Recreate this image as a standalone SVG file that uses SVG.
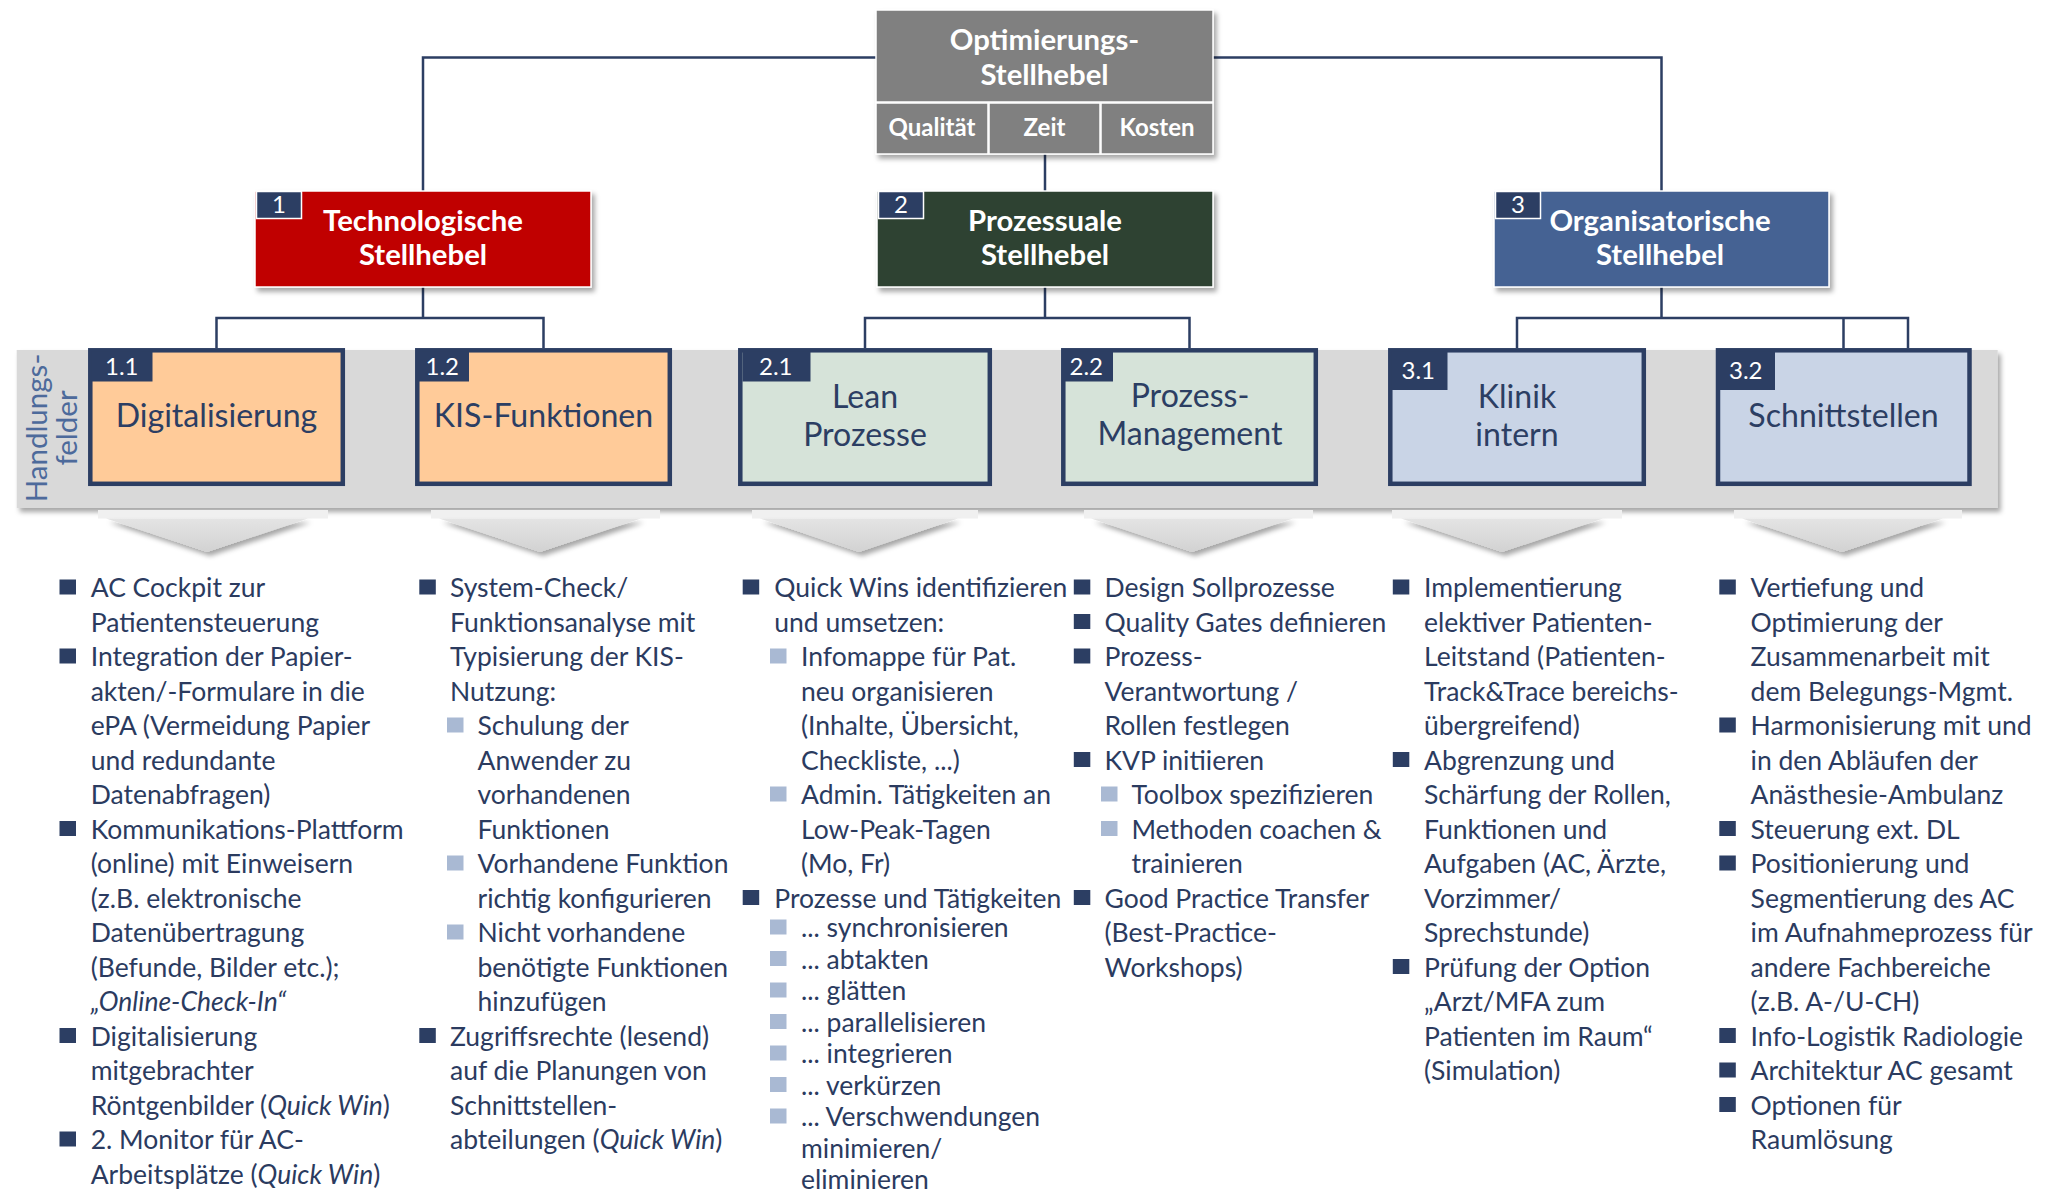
<svg xmlns="http://www.w3.org/2000/svg" width="2051" height="1191" viewBox="0 0 2051 1191">
<defs>
<style>
text{font-family:Lato,'Liberation Sans',sans-serif}
.li{font-size:26.5px;fill:#2B3B5F}
.it{font-style:italic}
.hd{font-weight:bold;fill:#fff;font-size:29.3px;text-anchor:middle}
.cell{font-weight:bold;fill:#fff;font-size:24px;text-anchor:middle}
.fld{font-size:32.1px;fill:#2C3E63;text-anchor:middle}
.num{font-size:24px;fill:#fff}
.b{fill:#2C3E63}
.sb{fill:#A9B9D3}
.conn{stroke:#2C3E63;stroke-width:2.5;fill:none}
.lbl{fill:#2C3E63}
.tlbl{fill:#2C3E63;stroke:#fff;stroke-width:1.5}
.top{stroke:#fff;stroke-width:1.5}
.fbox{stroke:#2C3E63;stroke-width:4.5}
.chl{fill:#F0F0F0}
.chv{fill:url(#cg)}
.hf{font-size:29.5px;fill:#4D6A9B;text-anchor:middle}
</style>
<filter id="sh" x="-10%" y="-10%" width="125%" height="140%">
<feDropShadow dx="3" dy="4" stdDeviation="2.5" flood-color="#000" flood-opacity="0.35"/>
</filter>
<linearGradient id="cg" x1="0" y1="0" x2="0" y2="1">
<stop offset="0" stop-color="#E4E4E4"/>
<stop offset="1" stop-color="#D2D2D2"/>
</linearGradient>
</defs>
<rect width="2051" height="1191" fill="#fff"/>

<g id="band">
<rect x="16.7" y="350" width="1981" height="158" fill="#D9D9D9" filter="url(#sh)"/>
<text class="hf" transform="translate(46.7,428) rotate(-90)">Handlungs-</text>
<text class="hf" transform="translate(77,428) rotate(-90)">felder</text>
</g>

<g id="connectors">
<path class="conn" d="M876,57.5H423V191"/>
<path class="conn" d="M1213,57.5H1661.5V191"/>
<path class="conn" d="M1045,154V191"/>
<path class="conn" d="M423,287V318M216.5,348V318H543.5V348"/>
<path class="conn" d="M1045,287V318M865,348V318H1189.5V348"/>
<path class="conn" d="M1661.5,287V318M1517,348V318H1908V348M1843.5,318V348"/>
</g>

<g id="optimierung">
<g filter="url(#sh)">
<rect class="top" x="876" y="10" width="337" height="92" fill="#808080"/>
<rect class="top" x="876" y="103" width="112" height="51" fill="#808080"/>
<rect class="top" x="989" y="103" width="111" height="51" fill="#808080"/>
<rect class="top" x="1101" y="103" width="112" height="51" fill="#808080"/>
</g>
<text class="hd" x="1044.5" y="50">Optimierungs-</text>
<text class="hd" x="1044.5" y="85">Stellhebel</text>
<text class="cell" x="932" y="136">Qualität</text>
<text class="cell" x="1044.5" y="136">Zeit</text>
<text class="cell" x="1157" y="136">Kosten</text>
</g>

<g id="n1">
<rect class="top" x="255" y="191" width="336" height="96" fill="#C00000" filter="url(#sh)"/>
<rect class="tlbl" x="256.5" y="191.5" width="45" height="27"/>
<text class="num" x="279" y="213" text-anchor="middle">1</text>
<text class="hd" x="423" y="230.7">Technologische</text>
<text class="hd" x="423" y="265">Stellhebel</text>
</g>
<g id="n2">
<rect class="top" x="877" y="191" width="336" height="96" fill="#2F4233" filter="url(#sh)"/>
<rect class="tlbl" x="878.5" y="191.5" width="45" height="27"/>
<text class="num" x="901" y="213" text-anchor="middle">2</text>
<text class="hd" x="1045" y="230.7">Prozessuale</text>
<text class="hd" x="1045" y="265">Stellhebel</text>
</g>
<g id="n3">
<rect class="top" x="1494" y="191" width="335" height="96" fill="#456293" filter="url(#sh)"/>
<rect class="tlbl" x="1495.5" y="191.5" width="45" height="27"/>
<text class="num" x="1518" y="213" text-anchor="middle">3</text>
<text class="hd" x="1660" y="230.7">Organisatorische</text>
<text class="hd" x="1660" y="265">Stellhebel</text>
</g>

<g id="n11">
<rect class="fbox" x="90.3" y="350.3" width="252.5" height="133.5" fill="#FFCB99"/>
<rect class="lbl" x="91.5" y="351.5" width="61" height="30"/>
<text class="num" x="105" y="375">1.1</text>
<text class="fld" x="216.5" y="426.7">Digitalisierung</text>
</g>
<g id="n12">
<rect class="fbox" x="417.3" y="350.3" width="252.5" height="133.5" fill="#FFCB99"/>
<rect class="lbl" x="419" y="351.5" width="50" height="30"/>
<text class="num" x="425.5" y="375">1.2</text>
<text class="fld" x="543.5" y="426.7">KIS-Funktionen</text>
</g>
<g id="n21">
<rect class="fbox" x="740.3" y="350.3" width="249.5" height="133.5" fill="#D6E3D9"/>
<rect class="lbl" x="742.5" y="351.5" width="68" height="30"/>
<text class="num" x="759" y="375">2.1</text>
<text class="fld" x="865" y="408.3">Lean</text>
<text class="fld" x="865" y="446">Prozesse</text>
</g>
<g id="n22">
<rect class="fbox" x="1063.3" y="350.3" width="252.5" height="133.5" fill="#D6E3D9"/>
<rect class="lbl" x="1064" y="351.5" width="49" height="30"/>
<text class="num" x="1069.5" y="375">2.2</text>
<text class="fld" x="1190" y="407">Prozess-</text>
<text class="fld" x="1190" y="444.6">Management</text>
</g>
<g id="n31">
<rect class="fbox" x="1390.3" y="350.3" width="253.5" height="133.5" fill="#C9D4E6"/>
<rect class="lbl" x="1391.5" y="351.5" width="56" height="38.5"/>
<text class="num" x="1401.5" y="379.3">3.1</text>
<text class="fld" x="1517" y="408.3">Klinik</text>
<text class="fld" x="1517" y="445.7">intern</text>
</g>
<g id="n32">
<rect class="fbox" x="1718" y="350.3" width="251.5" height="133.5" fill="#C9D4E6"/>
<rect class="lbl" x="1719" y="351.5" width="56" height="38.5"/>
<text class="num" x="1729" y="379.3">3.2</text>
<text class="fld" x="1843.5" y="426.7">Schnittstellen</text>
</g>

<g id="chevrons">
<rect class="chl" x="98" y="510" width="230" height="8.5"/>
<polygon class="chv" points="106,518.5 308,518.5 207,552" filter="url(#sh)"/>
<rect class="chl" x="431" y="510" width="229" height="8.5"/>
<polygon class="chv" points="439,518.5 641,518.5 540,552" filter="url(#sh)"/>
<rect class="chl" x="752" y="510" width="226" height="8.5"/>
<polygon class="chv" points="760,518.5 958,518.5 859,552" filter="url(#sh)"/>
<rect class="chl" x="1084" y="510" width="229" height="8.5"/>
<polygon class="chv" points="1091,518.5 1293,518.5 1192,552" filter="url(#sh)"/>
<rect class="chl" x="1392" y="510" width="230" height="8.5"/>
<polygon class="chv" points="1401,518.5 1603,518.5 1502,552" filter="url(#sh)"/>
<rect class="chl" x="1734" y="510" width="228" height="8.5"/>
<polygon class="chv" points="1742,518.5 1943,518.5 1842,552" filter="url(#sh)"/>
</g>

<g id="list1">
<rect class="b" x="59.5" y="579.5" width="16.5" height="15"/>
<text class="li" x="90.7" y="597">AC Cockpit zur</text>
<text class="li" x="90.7" y="631.5">Patientensteuerung</text>
<rect class="b" x="59.5" y="648.5" width="16.5" height="15"/>
<text class="li" x="90.7" y="666">Integration der Papier-</text>
<text class="li" x="90.7" y="700.5">akten/-Formulare in die</text>
<text class="li" x="90.7" y="735">ePA (Vermeidung Papier</text>
<text class="li" x="90.7" y="769.5">und redundante</text>
<text class="li" x="90.7" y="804">Datenabfragen)</text>
<rect class="b" x="59.5" y="821" width="16.5" height="15"/>
<text class="li" x="90.7" y="838.5">Kommunikations-Plattform</text>
<text class="li" x="90.7" y="873">(online) mit Einweisern</text>
<text class="li" x="90.7" y="907.5">(z.B. elektronische</text>
<text class="li" x="90.7" y="942">Datenübertragung</text>
<text class="li" x="90.7" y="976.5">(Befunde, Bilder etc.);</text>
<text class="li it" x="90.7" y="1011">„Online-Check-In“</text>
<rect class="b" x="59.5" y="1028" width="16.5" height="15"/>
<text class="li" x="90.7" y="1045.5">Digitalisierung</text>
<text class="li" x="90.7" y="1080">mitgebrachter</text>
<text class="li" x="90.7" y="1114.5">Röntgenbilder (<tspan class="it">Quick Win</tspan>)</text>
<rect class="b" x="59.5" y="1131.5" width="16.5" height="15"/>
<text class="li" x="90.7" y="1149">2. Monitor für AC-</text>
<text class="li" x="90.7" y="1183.5">Arbeitsplätze (<tspan class="it">Quick Win</tspan>)</text>
</g>

<g id="list2">
<rect class="b" x="419.3" y="579.5" width="16.5" height="15"/>
<text class="li" x="450" y="597">System-Check/</text>
<text class="li" x="450" y="631.5">Funktionsanalyse mit</text>
<text class="li" x="450" y="666">Typisierung der KIS-</text>
<text class="li" x="450" y="700.5">Nutzung:</text>
<rect class="sb" x="447" y="717.5" width="16.5" height="15"/>
<text class="li" x="477.5" y="735">Schulung der</text>
<text class="li" x="477.5" y="769.5">Anwender zu</text>
<text class="li" x="477.5" y="804">vorhandenen</text>
<text class="li" x="477.5" y="838.5">Funktionen</text>
<rect class="sb" x="447" y="855.5" width="16.5" height="15"/>
<text class="li" x="477.5" y="873">Vorhandene Funktion</text>
<text class="li" x="477.5" y="907.5">richtig konfigurieren</text>
<rect class="sb" x="447" y="924.5" width="16.5" height="15"/>
<text class="li" x="477.5" y="942">Nicht vorhandene</text>
<text class="li" x="477.5" y="976.5">benötigte Funktionen</text>
<text class="li" x="477.5" y="1011">hinzufügen</text>
<rect class="b" x="419.3" y="1028" width="16.5" height="15"/>
<text class="li" x="450" y="1045.5">Zugriffsrechte (lesend)</text>
<text class="li" x="450" y="1080">auf die Planungen von</text>
<text class="li" x="450" y="1114.5">Schnittstellen-</text>
<text class="li" x="450" y="1149">abteilungen (<tspan class="it">Quick Win</tspan>)</text>
</g>

<g id="list3">
<rect class="b" x="742.7" y="579.5" width="16.5" height="15"/>
<text class="li" x="774.3" y="597">Quick Wins identifizieren</text>
<text class="li" x="774.3" y="631.5">und umsetzen:</text>
<rect class="sb" x="770" y="648.5" width="16.5" height="15"/>
<text class="li" x="801" y="666">Infomappe für Pat.</text>
<text class="li" x="801" y="700.5">neu organisieren</text>
<text class="li" x="801" y="735">(Inhalte, Übersicht,</text>
<text class="li" x="801" y="769.5">Checkliste, ...)</text>
<rect class="sb" x="770" y="786.5" width="16.5" height="15"/>
<text class="li" x="801" y="804">Admin. Tätigkeiten an</text>
<text class="li" x="801" y="838.5">Low-Peak-Tagen</text>
<text class="li" x="801" y="873">(Mo, Fr)</text>
<rect class="b" x="742.7" y="890" width="16.5" height="15"/>
<text class="li" x="774.3" y="907.5">Prozesse und Tätigkeiten</text>
<rect class="sb" x="770" y="919.5" width="16.5" height="15"/>
<text class="li" x="801" y="937">... synchronisieren</text>
<rect class="sb" x="770" y="951" width="16.5" height="15"/>
<text class="li" x="801" y="968.5">... abtakten</text>
<rect class="sb" x="770" y="982.5" width="16.5" height="15"/>
<text class="li" x="801" y="1000">... glätten</text>
<rect class="sb" x="770" y="1014" width="16.5" height="15"/>
<text class="li" x="801" y="1031.5">... parallelisieren</text>
<rect class="sb" x="770" y="1045.5" width="16.5" height="15"/>
<text class="li" x="801" y="1063">... integrieren</text>
<rect class="sb" x="770" y="1077" width="16.5" height="15"/>
<text class="li" x="801" y="1094.5">... verkürzen</text>
<rect class="sb" x="770" y="1108.5" width="16.5" height="15"/>
<text class="li" x="801" y="1126">... Verschwendungen</text>
<text class="li" x="801" y="1157.5">minimieren/</text>
<text class="li" x="801" y="1189">eliminieren</text>
</g>

<g id="list4">
<rect class="b" x="1073.8" y="579.5" width="16.5" height="15"/>
<text class="li" x="1104.5" y="597">Design Sollprozesse</text>
<rect class="b" x="1073.8" y="614" width="16.5" height="15"/>
<text class="li" x="1104.5" y="631.5">Quality Gates definieren</text>
<rect class="b" x="1073.8" y="648.5" width="16.5" height="15"/>
<text class="li" x="1104.5" y="666">Prozess-</text>
<text class="li" x="1104.5" y="700.5">Verantwortung /</text>
<text class="li" x="1104.5" y="735">Rollen festlegen</text>
<rect class="b" x="1073.8" y="752" width="16.5" height="15"/>
<text class="li" x="1104.5" y="769.5">KVP initiieren</text>
<rect class="sb" x="1101" y="786.5" width="16.5" height="15"/>
<text class="li" x="1131.4" y="804">Toolbox spezifizieren</text>
<rect class="sb" x="1101" y="821" width="16.5" height="15"/>
<text class="li" x="1131.4" y="838.5">Methoden coachen &amp;</text>
<text class="li" x="1131.4" y="873">trainieren</text>
<rect class="b" x="1073.8" y="890" width="16.5" height="15"/>
<text class="li" x="1104.5" y="907.5">Good Practice Transfer</text>
<text class="li" x="1104.5" y="942">(Best-Practice-</text>
<text class="li" x="1104.5" y="976.5">Workshops)</text>
</g>

<g id="list5">
<rect class="b" x="1392.8" y="579.5" width="16.5" height="15"/>
<text class="li" x="1424" y="597">Implementierung</text>
<text class="li" x="1424" y="631.5">elektiver Patienten-</text>
<text class="li" x="1424" y="666">Leitstand (Patienten-</text>
<text class="li" x="1424" y="700.5">Track&amp;Trace bereichs-</text>
<text class="li" x="1424" y="735">übergreifend)</text>
<rect class="b" x="1392.8" y="752" width="16.5" height="15"/>
<text class="li" x="1424" y="769.5">Abgrenzung und</text>
<text class="li" x="1424" y="804">Schärfung der Rollen,</text>
<text class="li" x="1424" y="838.5">Funktionen und</text>
<text class="li" x="1424" y="873">Aufgaben (AC, Ärzte,</text>
<text class="li" x="1424" y="907.5">Vorzimmer/</text>
<text class="li" x="1424" y="942">Sprechstunde)</text>
<rect class="b" x="1392.8" y="959" width="16.5" height="15"/>
<text class="li" x="1424" y="976.5">Prüfung der Option</text>
<text class="li" x="1424" y="1011">„Arzt/MFA zum</text>
<text class="li" x="1424" y="1045.5">Patienten im Raum“</text>
<text class="li" x="1424" y="1080">(Simulation)</text>
</g>

<g id="list6">
<rect class="b" x="1719.3" y="579.5" width="16.5" height="15"/>
<text class="li" x="1750.6" y="597">Vertiefung und</text>
<text class="li" x="1750.6" y="631.5">Optimierung der</text>
<text class="li" x="1750.6" y="666">Zusammenarbeit mit</text>
<text class="li" x="1750.6" y="700.5">dem Belegungs-Mgmt.</text>
<rect class="b" x="1719.3" y="717.5" width="16.5" height="15"/>
<text class="li" x="1750.6" y="735">Harmonisierung mit und</text>
<text class="li" x="1750.6" y="769.5">in den Abläufen der</text>
<text class="li" x="1750.6" y="804">Anästhesie-Ambulanz</text>
<rect class="b" x="1719.3" y="821" width="16.5" height="15"/>
<text class="li" x="1750.6" y="838.5">Steuerung ext. DL</text>
<rect class="b" x="1719.3" y="855.5" width="16.5" height="15"/>
<text class="li" x="1750.6" y="873">Positionierung und</text>
<text class="li" x="1750.6" y="907.5">Segmentierung des AC</text>
<text class="li" x="1750.6" y="942">im Aufnahmeprozess für</text>
<text class="li" x="1750.6" y="976.5">andere Fachbereiche</text>
<text class="li" x="1750.6" y="1011">(z.B. A-/U-CH)</text>
<rect class="b" x="1719.3" y="1028" width="16.5" height="15"/>
<text class="li" x="1750.6" y="1045.5">Info-Logistik Radiologie</text>
<rect class="b" x="1719.3" y="1062.5" width="16.5" height="15"/>
<text class="li" x="1750.6" y="1080">Architektur AC gesamt</text>
<rect class="b" x="1719.3" y="1097" width="16.5" height="15"/>
<text class="li" x="1750.6" y="1114.5">Optionen für</text>
<text class="li" x="1750.6" y="1149">Raumlösung</text>
</g>
</svg>
